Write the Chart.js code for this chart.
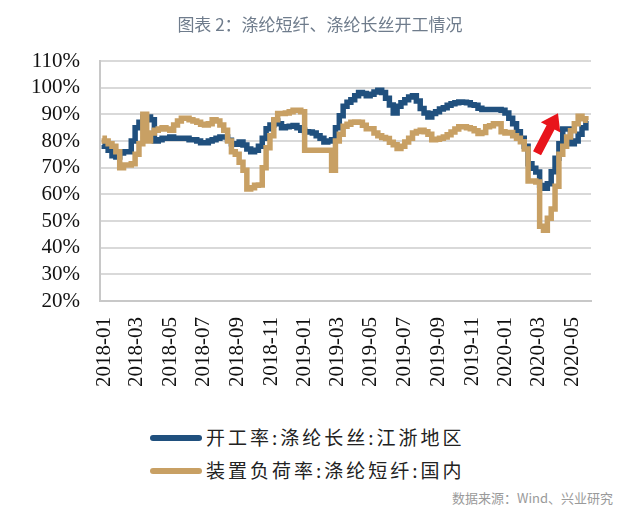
<!DOCTYPE html>
<html>
<head>
<meta charset="utf-8">
<script src="https://cdn.jsdelivr.net/npm/chart.js@4/dist/chart.umd.min.js"></script>
<style>
  html, body { margin: 0; padding: 0; background: #fff; }
  #wrap { position: relative; width: 640px; height: 516px; overflow: hidden; }
  #title { position: absolute; left: 0; top: 11px; width: 640px; text-align: center;
    font: 17px "Noto Sans CJK SC", sans-serif; color: #6f7c8c; }
  #chart-box { position: absolute; left: 0; top: 0; width: 640px; height: 410px; }
  .legend { position: absolute; left: 150px; font: 19px "Noto Sans CJK SC", serif; color: #222; letter-spacing: 3px; }
  .legend i { display: inline-block; width: 52px; height: 6px; border-radius: 3px; vertical-align: middle; margin-right: 4px; position: relative; top: -2px; }
  #source { position: absolute; right: 27px; top: 488px; font: 13px "Noto Sans CJK SC", sans-serif; color: #9a9a9a; }
</style>
</head>
<body>
<div id="wrap">
  <div id="chart-box"><canvas id="chart" width="640" height="410"></canvas></div>
  <div id="title">图表 2：涤纶短纤、涤纶长丝开工情况</div>
  <div class="legend" style="top:423px"><i style="background:#20507e"></i>开工率:涤纶长丝:江浙地区</div>
  <div class="legend" style="top:456px"><i style="background:#c8a064"></i>装置负荷率:涤纶短纤:国内</div>
  <div id="source">数据来源：Wind、兴业研究</div>
</div>
<script>
// 周度数据，起始日期 2017-12-29，每周一个点
const startDate = Date.UTC(2017, 11, 29);

// 开工率:涤纶长丝:江浙地区 (%)
const filamentRate = [
  78.5, 78, 76.5, 74.5, 74, 75.5, 76, 76, 80, 85,
  87, 89, 89, 88, 80, 80.5, 81, 81, 81.5, 81,
  81, 81, 81, 80.5, 80.5, 80, 79.3, 79.3, 80, 80.5,
  81, 81.5, 81.5, 80.3, 79, 78.8, 79.6, 78.5, 77, 76,
  76.5, 78, 81, 84.6, 86, 87.5, 86.5, 85, 85.3, 85.5,
  85.8, 85, 84, 83.5, 83.4, 83, 82, 81, 79.6, 80,
  80.5, 85, 89.5, 93, 94.5, 95.5, 97, 98.2, 97.8, 97,
  97.5, 98.4, 99, 98.2, 96, 93.5, 90.5, 93, 94.3, 95.5,
  96.5, 97, 95, 92.2, 90.5, 89, 90.3, 91, 92, 92.5,
  93.4, 94, 94.3, 94.6, 94.5, 94.3, 93.6, 93.4, 92.3, 91.8,
  91.8, 91.8, 91.8, 91.8, 91.5, 90.5, 88.5, 86.5, 83.5, 81,
  78, 71.5, 69.8, 68.4, 63.3, 62.3, 64, 68.5, 73.5, 79,
  84.5, 84.5, 79, 80, 82.5, 85, 87.5
];

// 装置负荷率:涤纶短纤:国内 (%)
const staplerRate = [
  81, 80, 79, 78, 76, 70, 71, 71, 71.5, 75,
  79, 90, 80, 83, 84, 84.5, 85, 84.5, 84, 86,
  87.5, 88.5, 88.5, 88, 87.5, 87, 86.3, 86, 86.5, 88,
  87.5, 86, 84, 80, 76, 75, 72, 69, 62, 62.5,
  63.4, 63.5, 70, 77.5, 82, 88, 90.3, 90.3, 90.5, 91,
  91.5, 91.5, 91, 76.5, 76.5, 76.5, 76.5, 76.5, 76.5, 76.5,
  69, 80, 82.5, 85.5, 86.3, 87, 87.1, 87, 85.9, 84.6,
  84.6, 83, 82, 81.3, 80.9, 79.5, 78.6, 77.2, 78, 79.6,
  81, 83, 83.6, 84, 83.5, 82.5, 80.5, 80.7, 81, 81.5,
  82.3, 83.4, 84.5, 85.3, 85.3, 85, 84.6, 83.8, 82.8, 83.2,
  85.3, 85.7, 86.5, 86.5, 83.5, 83, 83.2, 82, 81, 79.7,
  77, 65, 65, 64.6, 48, 46.5, 51, 54.5, 63, 75,
  78, 81.5, 83.8, 86.5, 89.3, 88.3, 87.8
];

const xTickLabels = ["2018-01", "2018-03", "2018-05", "2018-07", "2018-09", "2018-11",
  "2019-01", "2019-03", "2019-05", "2019-07", "2019-09", "2019-11",
  "2020-01", "2020-03", "2020-05"];
const yTicks = [20, 30, 40, 50, 60, 70, 80, 90, 100, 110];

// 红色箭头（月份偏移, %）
const arrowTail = [25.85, 75.4];
const arrowHead = [27.1, 90.4];

const DAY = 86400000;
const base = Date.UTC(2018, 0, 1);
const monthOf = t => (t - base) / DAY / 30.4375;
const labelMonth = s => monthOf(Date.UTC(+s.slice(0, 4), +s.slice(5, 7) - 1, 1));
const tickMonths = xTickLabels.map(labelMonth);

const toPoints = arr => arr.map((v, i) => ({ x: monthOf(startDate + i * 7 * DAY), y: v }));

const arrowPlugin = {
  id: 'redArrow',
  afterDatasetsDraw(chart) {
    const { ctx, scales: { x, y } } = chart;
    const x0 = x.getPixelForValue(arrowTail[0]), y0 = y.getPixelForValue(arrowTail[1]);
    const x1 = x.getPixelForValue(arrowHead[0]), y1 = y.getPixelForValue(arrowHead[1]);
    const ang = Math.atan2(y1 - y0, x1 - x0);
    const len = Math.hypot(x1 - x0, y1 - y0);
    const shaft = 4.5, head = 11, headLen = 16;
    ctx.save();
    ctx.translate(x0, y0);
    ctx.rotate(ang);
    ctx.beginPath();
    ctx.moveTo(0, -shaft);
    ctx.lineTo(len - headLen, -shaft);
    ctx.lineTo(len - headLen, -head);
    ctx.lineTo(len, 0);
    ctx.lineTo(len - headLen, head);
    ctx.lineTo(len - headLen, shaft);
    ctx.lineTo(0, shaft);
    ctx.closePath();
    ctx.fillStyle = '#e8141b';
    ctx.fill();
    ctx.restore();
  }
};

new Chart(document.getElementById('chart'), {
  type: 'line',
  data: {
    datasets: [{
      label: '开工率:涤纶长丝:江浙地区',
      data: toPoints(filamentRate),
      borderColor: '#20507e',
      borderWidth: 5.5,
      pointRadius: 0,
      stepped: 'middle',
      order: 2
    }, {
      label: '装置负荷率:涤纶短纤:国内',
      data: toPoints(staplerRate),
      borderColor: '#c8a064',
      borderWidth: 5.5,
      pointRadius: 0,
      stepped: 'middle',
      order: 1
    }]
  },
  options: {
    responsive: false,
    animation: false,
    layout: { padding: { top: 61, right: 49, left: 0, bottom: 0 } },
    plugins: { legend: { display: false }, tooltip: { enabled: false } },
    scales: {
      x: {
        type: 'linear',
        min: -0.24,
        max: 29.07,
        afterFit: s => { s.height = 109; },
        afterBuildTicks: s => { s.ticks = tickMonths.map(v => ({ value: v })); },
        grid: { display: false },
        border: { display: true, color: '#c8c8c8', width: 2 },
        ticks: {
          autoSkip: false,
          minRotation: 90,
          maxRotation: 90,
          padding: 8,
          color: '#111',
          font: { family: 'Liberation Serif', size: 21 },
          callback: v => xTickLabels[tickMonths.indexOf(v)]
        }
      },
      y: {
        min: 20,
        max: 110,
        afterFit: s => { s.width = 100; },
        afterBuildTicks: s => { s.ticks = yTicks.map(v => ({ value: v })); },
        grid: { color: '#d9d9d9', lineWidth: 2, drawTicks: false },
        border: { display: true, color: '#c8c8c8', width: 2 },
        ticks: {
          autoSkip: false,
          padding: 20,
          color: '#111',
          font: { family: 'Liberation Serif', size: 21 },
          callback: v => v + '%'
        }
      }
    }
  },
  plugins: [arrowPlugin]
});
</script>
</body>
</html>
